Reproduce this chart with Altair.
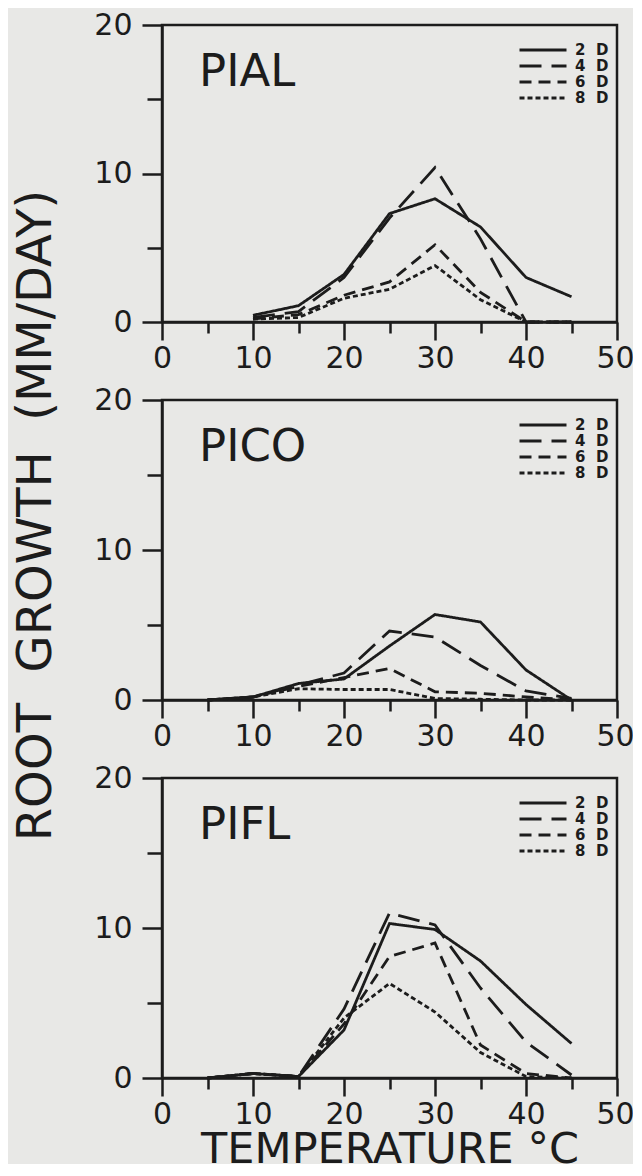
import altair as alt
import pandas as pd

temps = [5, 10, 15, 20, 25, 30, 35, 40, 45]
series = ["2 D", "4 D", "6 D", "8 D"]
dashes = [[1, 0], [22, 10], [12, 7], [5, 3]]

pial_2d = [None, 0.45, 1.1, 3.2, 7.3, 8.3, 6.4, 3.0, 1.7]
pial_4d = [None, 0.3, 0.7, 3.0, 7.0, 10.4, 5.6, 0.0, 0.0]
pial_6d = [None, 0.2, 0.5, 1.8, 2.7, 5.2, 2.0, 0.0, 0.0]
pial_8d = [None, 0.2, 0.3, 1.6, 2.2, 3.8, 1.5, 0.0, 0.0]

pico_2d = [0.0, 0.2, 1.1, 1.4, 3.6, 5.7, 5.2, 2.0, 0.0]
pico_4d = [0.0, 0.2, 1.0, 1.8, 4.6, 4.2, 2.3, 0.6, 0.1]
pico_6d = [0.0, 0.2, 0.9, 1.5, 2.1, 0.55, 0.45, 0.2, 0.0]
pico_8d = [0.0, 0.2, 0.75, 0.7, 0.7, 0.1, 0.05, 0.0, 0.0]

pifl_2d = [0.0, 0.3, 0.1, 3.2, 10.3, 9.9, 7.8, 4.9, 2.3]
pifl_4d = [0.0, 0.3, 0.1, 4.6, 11.0, 10.2, 6.0, 2.4, 0.2]
pifl_6d = [0.0, 0.3, 0.1, 3.6, 8.1, 9.0, 2.2, 0.3, 0.0]
pifl_8d = [0.0, 0.3, 0.1, 4.0, 6.3, 4.4, 1.7, 0.1, 0.0]

panel_names = ["PIAL", "PICO", "PIFL"]
x_title = "TEMPERATURE °C"
y_title = "ROOT\u00a0\u00a0GROWTH\u00a0\u00a0(MM/DAY)"

INK = "#1c1c1c"
BG = "#e8e8e6"
FONT = "DejaVu Sans"


def long_df(cols):
    rows = []
    for s, vals in zip(series, cols):
        for t, v in zip(temps, vals):
            if v is not None:
                rows.append({"temp": t, "growth": v, "series": s})
    return pd.DataFrame(rows)


def panel(name, cols, h, xt=None, yt=None):
    df = long_df(cols)
    x_axis = alt.Axis(
        values=list(range(0, 55, 5)),
        labelExpr="datum.value % 10 === 0 ? datum.label : ''",
        tickSize={"condition": {"test": "datum.value % 10 === 0", "value": 18}, "value": 11},
        labelOffset={"condition": {"test": "datum.value === 50", "value": -2}, "value": 0},
        labelPadding=3,
        labelFlush=False,
        title=xt,
        titleFont=FONT,
        titleFontSize=43,
        titleFontWeight="normal",
        titleColor=INK,
        titlePadding=-1,
    )
    y_kwargs = dict(
        values=[0, 5, 10, 15, 20],
        labelExpr="datum.value % 10 === 0 ? datum.label : ''",
        tickSize={"condition": {"test": "datum.value % 10 === 0", "value": 20}, "value": 15},
        labelPadding=10,
        labelFlush=False,
        title=yt,
    )
    if yt:
        y_kwargs.update(
            titleFont=FONT,
            titleFontSize=48,
            titleFontWeight="normal",
            titleColor=INK,
            titleAngle=270,
            titleAlign="center",
            titleBaseline="middle",
            titleX=-126,
            titleY=115,
        )
    lines = (
        alt.Chart(df)
        .mark_line(color=INK, strokeWidth=2.8)
        .encode(
            x=alt.X("temp:Q", scale=alt.Scale(domain=[0, 50], nice=False), axis=x_axis),
            y=alt.Y("growth:Q", scale=alt.Scale(domain=[0, 20], nice=False), axis=alt.Axis(**y_kwargs)),
            strokeDash=alt.StrokeDash(
                "series:N",
                scale=alt.Scale(domain=series, range=dashes),
                legend=alt.Legend(
                    orient="none",
                    legendX=356,
                    legendY=17,
                    title=None,
                    symbolType="stroke",
                    symbolSize=2209,
                    symbolStrokeWidth=2.8,
                    symbolStrokeColor=INK,
                    clipHeight=16,
                    labelFont=FONT,
                    labelFontWeight="bold",
                    labelFontSize=15,
                    labelColor=INK,
                    labelOffset=7,
                    rowPadding=0,
                    labelExpr="datum.label[0] + '\u00a0\u00a0D'",
                ),
            ),
        )
    )
    label = (
        alt.Chart(pd.DataFrame({"name": [name]}))
        .mark_text(align="left", baseline="alphabetic", font=FONT, fontSize=45, color=INK)
        .encode(x=alt.value(37), y=alt.value(61), text="name:N")
    )
    return alt.layer(lines, label).properties(width=455, height=h)


p1 = panel(panel_names[0], [pial_2d, pial_4d, pial_6d, pial_8d], 297)
p2 = panel(panel_names[1], [pico_2d, pico_4d, pico_6d, pico_8d], 300, yt=y_title)
p3 = panel(panel_names[2], [pifl_2d, pifl_4d, pifl_6d, pifl_8d], 300, xt=x_title)

chart = (
    alt.vconcat(p1, p2, p3, spacing=78, bounds="flush")
    .resolve_legend(strokeDash="independent")
    .properties(background=BG, padding={"left": 2, "top": 0, "right": -3, "bottom": -9})
    .configure_view(stroke=INK, strokeWidth=2.5)
    .configure_axis(
        grid=False,
        domainColor=INK,
        domainWidth=2.5,
        tickColor=INK,
        tickWidth=2.5,
        labelFont=FONT,
        labelFontSize=30,
        labelColor=INK,
    )
)

chart.save("out.html", embed_options={"renderer": "svg", "actions": False})
